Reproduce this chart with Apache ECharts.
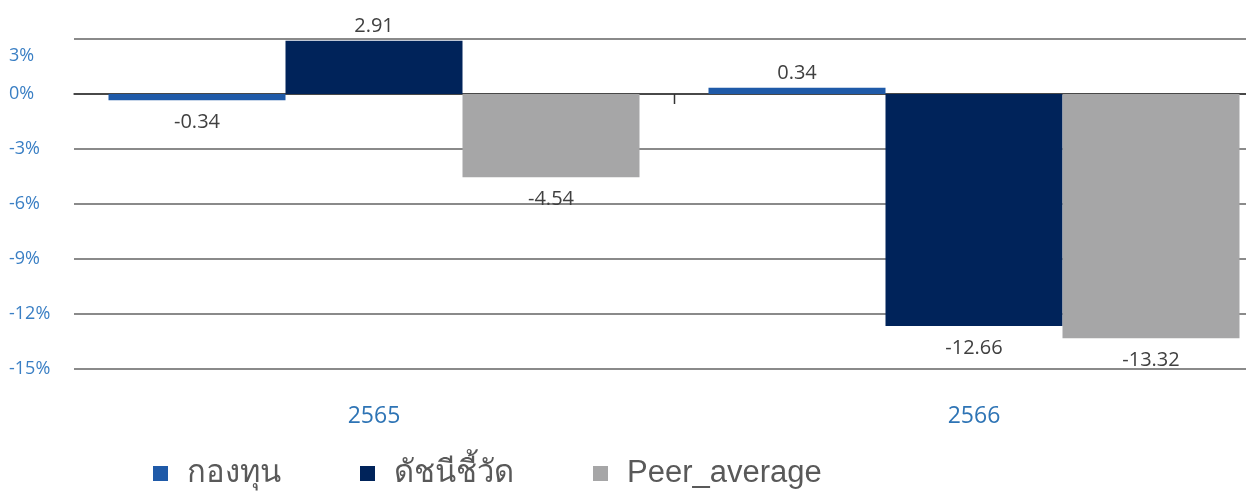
<!DOCTYPE html>
<html><head><meta charset="utf-8">
<script src="https://cdn.jsdelivr.net/npm/echarts@6/dist/echarts.min.js"></script>
<style>html,body{margin:0;padding:0;background:#fff}#c{width:1246px;height:494px}</style>
</head><body><div id="c"></div>
<script>
const categories = ['2565', '2566'];
const seriesNames = ['กองทุน', 'ดัชนีชี้วัด', 'Peer_average'];
const fundValues = [-0.34, 0.34];
const benchValues = [2.91, -12.66];
const peerValues = [-4.54, -13.32];
const colors = ['#1f5aa8', '#00235a', '#a6a6a7'];
const yMin = -15, yMax = 3, yStep = 3;

function mk(vals) {
  return vals.map(v => ({ value: v, label: { position: v < 0 ? 'bottom' : 'top', distance: v < 0 ? 12 : 4 } }));
}
const allVals = [fundValues, benchValues, peerValues];
const chart = echarts.init(document.getElementById('c'));
chart.setOption({
  animation: false,
  color: colors,
  grid: { left: 74, top: 39, width: 1200, height: 330, outerBoundsMode: 'none', containLabel: false },
  legend: {
    bottom: 0, left: 148, itemWidth: 15, itemHeight: 15, itemGap: 79,
    icon: 'rect',
    textStyle: { fontFamily: 'Liberation Sans', fontSize: 31, color: '#595959', padding: [0, 0, 0, 14] },
    data: seriesNames
  },
  xAxis: [
    { type: 'category', data: categories, axisLine: { onZero: true, lineStyle: { color: '#333', width: 1.5 } },
      axisTick: { show: false }, axisLabel: { show: false } },
    { type: 'category', data: categories, position: 'bottom', axisLine: { show: false }, axisTick: { show: false },
      axisLabel: { margin: 36, fontFamily: 'Open Sans', fontSize: 23, color: '#2e74b5' } }
  ],
  yAxis: {
    type: 'value', min: yMin, max: yMax, interval: yStep,
    axisLine: { show: false }, axisTick: { show: false },
    axisLabel: { align: 'left', margin: 65, fontFamily: 'Open Sans', fontSize: 18, color: '#3a7fc4',
      formatter: v => v === yMax ? '{t|' + v + '%}' : v + '%',
      rich: { t: { padding: [34, 0, 0, 0], fontFamily: 'Open Sans', fontSize: 18, color: '#3a7fc4' } } },
    splitLine: { lineStyle: { color: '#8a8a8a', width: 2 } }
  },
  series: seriesNames.map((n, i) => ({
    name: n, type: 'bar', xAxisIndex: 0, barGap: '0%', barCategoryGap: '11.5%',
    data: mk(allVals[i]),
    label: { show: true, fontFamily: 'Open Sans', fontSize: 20, color: '#404040', formatter: p => p.value.toFixed(2) }
  }))
});
// category boundary tick, positioned through the axis scales
const c0 = chart.convertToPixel({ xAxisIndex: 0 }, categories[0]);
const c1 = chart.convertToPixel({ xAxisIndex: 0 }, categories[1]);
const y0 = chart.convertToPixel({ yAxisIndex: 0 }, 0);
const bx = Math.round((c0 + c1) / 2) + 0.5;
chart.setOption({
  graphic: [{ type: 'line', shape: { x1: bx, y1: y0, x2: bx, y2: y0 + 10 }, style: { stroke: '#333', lineWidth: 1.5 }, z: 10 }]
});
</script></body></html>
